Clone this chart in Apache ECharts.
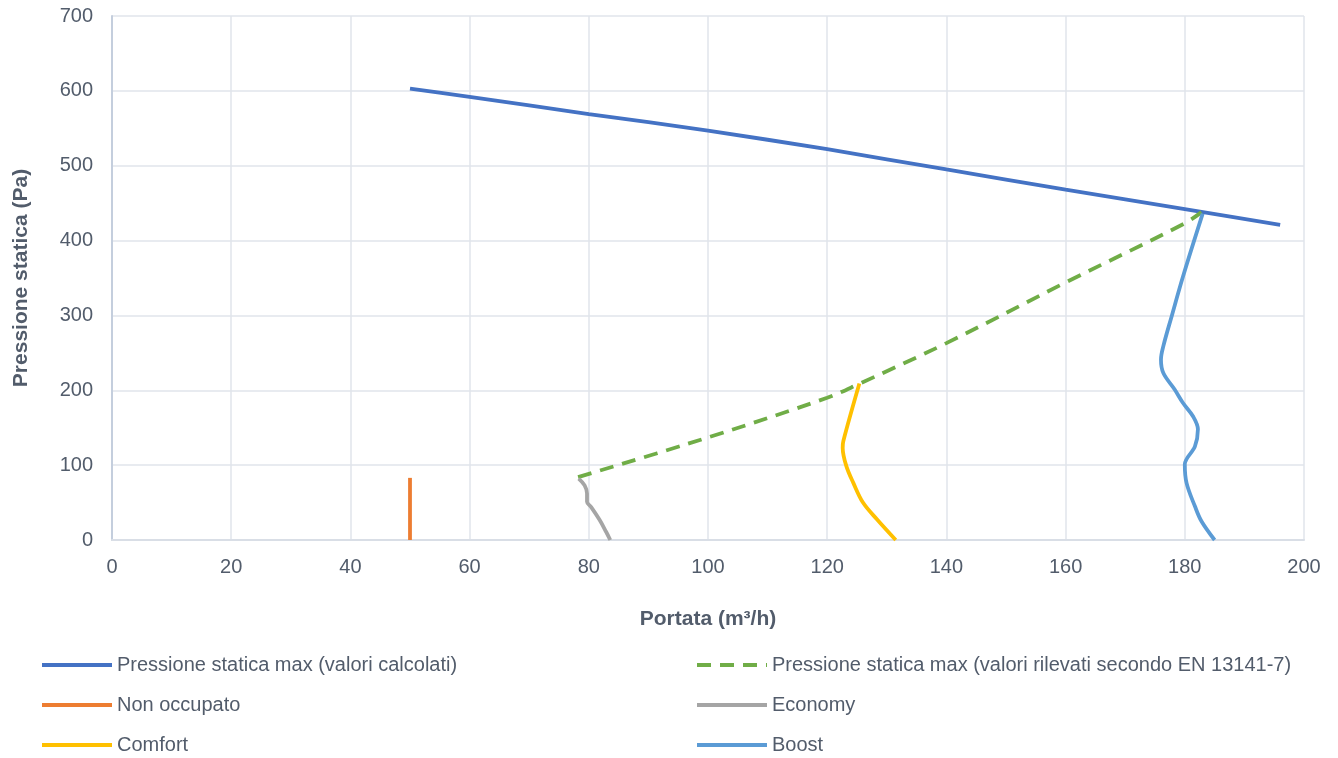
<!DOCTYPE html>
<html>
<head>
<meta charset="utf-8">
<script src="https://cdn.jsdelivr.net/npm/echarts@6/dist/echarts.min.js"></script>
<style>
html,body{margin:0;padding:0;background:#fff;}
#c{width:1338px;height:758px;}
</style>
</head>
<body>
<div id="c"></div>
<script>
const seriesNames = [
  'Pressione statica max (valori calcolati)',
  'Pressione statica max (valori rilevati secondo EN 13141-7)',
  'Non occupato',
  'Economy',
  'Comfort',
  'Boost'
];
const maxCalc = [[50,603],[60,592],[80,569],[100,547],[120,522],[140,495],[160,468],[180,442],[196,421]];
const maxMeasured = [[78.2,84],[100,137],[120,190],[125.2,208],[140,263],[160,344],[180,423],[182.8,438]];
const nonOccupato = [[50,0],[50,83]];
const economy = [[83.6,0],[82.9,11],[81.8,27],[80.4,44],[79.7,51],[79.7,62],[79.3,73],[78.3,82]];
const comfort = [[131.5,0],[128.3,28],[126,50],[124.4,76],[123.2,99],[122.6,123],[122.7,132],[125.4,209]];
const boost = [[185,0],[182.8,25],[181.7,45],[180.3,76],[180,101],[181.7,125],[182.2,148],[181.4,165],[179.7,183],[178.3,201],[176.4,223],[176,241],[176.4,259],[177.8,299],[179.7,352],[183,436]];
const xTicks = {min:0, max:200, interval:20};
const yTicks = {min:0, max:700, interval:100};

const colors = ['#4472C4','#70AD47','#ED7D31','#A5A5A5','#FFC000','#5B9BD5'];
const font = 'Liberation Sans, Arial, sans-serif';
const txt = '#525C6B';

const chart = echarts.init(document.getElementById('c'), null, {renderer:'canvas'});
function line(name, data, color, extra){
  return Object.assign({
    name, type:'line', data, symbol:'none', showSymbol:false,
    lineStyle:{color, width:3.8}, itemStyle:{color}, smooth:0.35, z:2, animation:false
  }, extra||{});
}
const legendBase = {
  orient:'vertical', top:655, height:120, padding:0, itemWidth:70, itemHeight:14, itemGap:20,
  textStyle:{fontSize:20, color:txt, fontFamily:font},
  itemStyle:{opacity:0, color:'transparent', borderWidth:0},
  lineStyle:{width:4}
};
chart.setOption({
  animation:false,
  textStyle:{fontFamily:font},
  grid:{left:112, right:34, top:16, bottom:218, containLabel:false},
  xAxis:{
    type:'value', min:xTicks.min, max:xTicks.max, interval:xTicks.interval,
    name:'Portata (m³/h)', nameLocation:'middle', nameGap:69,
    nameTextStyle:{fontSize:21, fontWeight:'bold', color:txt, fontFamily:font},
    axisLine:{show:true, lineStyle:{color:'#D9DEE6', width:2}},
    axisTick:{show:false},
    axisLabel:{fontSize:20, color:txt, margin:17, fontFamily:font},
    splitLine:{show:true, lineStyle:{color:'#E1E5EB', width:1.5}}
  },
  yAxis:{
    type:'value', min:yTicks.min, max:yTicks.max, interval:yTicks.interval,
    name:'Pressione statica (Pa)', nameLocation:'middle', nameGap:80,
    nameTextStyle:{fontSize:21, fontWeight:'bold', color:txt, fontFamily:font},
    axisLine:{show:true, lineStyle:{color:'#C4CEDD', width:2}},
    axisTick:{show:false},
    axisLabel:{fontSize:20, color:txt, margin:19, fontFamily:font},
    splitLine:{show:true, lineStyle:{color:'#E1E5EB', width:1.5}}
  },
  legend:[
    Object.assign({left:40, data:[seriesNames[0], seriesNames[2], seriesNames[4]]}, legendBase),
    Object.assign({left:695, data:[seriesNames[1], seriesNames[3], seriesNames[5]]}, legendBase)
  ],
  series:[
    line(seriesNames[0], maxCalc, colors[0], {smooth:0.2}),
    line(seriesNames[1], maxMeasured, colors[1], {lineStyle:{color:colors[1], width:3.8, type:[14,9]}}),
    line(seriesNames[2], nonOccupato, colors[2], {smooth:false}),
    line(seriesNames[3], economy, colors[3]),
    line(seriesNames[4], comfort, colors[4]),
    line(seriesNames[5], boost, colors[5], {z:3})
  ]
});
</script>
</body>
</html>
